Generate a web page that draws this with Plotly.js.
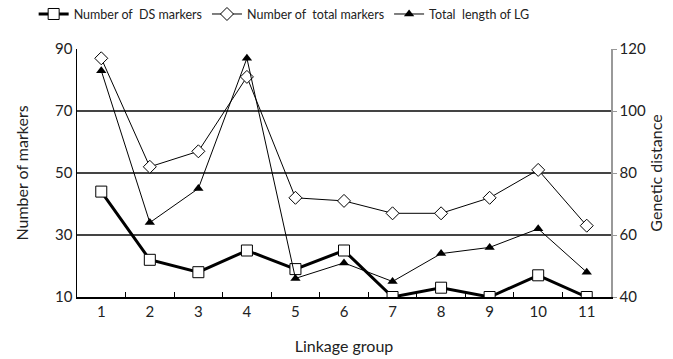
<!DOCTYPE html>
<html><head><meta charset="utf-8">
<script src="https://cdn.plot.ly/plotly-3.0.1.min.js"></script>
<style>html,body{margin:0;padding:0;background:#fff}#c{width:673px;height:359px}</style>
</head><body><div id="c"></div>
<script>
const groups = ['1','2','3','4','5','6','7','8','9','10','11'];
const dsMarkers = [44,22,18,25,19,25,10,13,10,17,10];
const totalMarkers = [87,52,57,81,42,41,37,37,42,51,33];
const lgLength = [113,64,75,117,46,51,45,54,56,62,48];
const seriesNames = ['Number of  DS markers','Number of  total markers','Total  length of LG'];

const font = 'Lato, "Open Sans", sans-serif';
const data = [
  {x: groups, y: dsMarkers, name: seriesNames[0], type:'scatter', mode:'lines+markers',
   line:{color:'#000', width:3}, marker:{symbol:'square', size:11, color:'#fff', line:{color:'#000', width:1}}},
  {x: groups, y: totalMarkers, name: seriesNames[1], type:'scatter', mode:'lines+markers',
   line:{color:'#000', width:1}, marker:{symbol:'diamond', size:10, color:'#fff', line:{color:'#000', width:1}}},
  {x: groups, y: lgLength, name: seriesNames[2], type:'scatter', mode:'lines+markers', yaxis:'y2',
   line:{color:'#000', width:1}, marker:{symbol:'triangle-up', size:9, color:'#000'}}
];
const layout = {
  width:673, height:359,
  margin:{l:77, r:62, t:49, b:62, autoexpand:false},
  paper_bgcolor:'#fff', plot_bgcolor:'#fff',
  font:{family:font, size:15, color:'#222'},
  showlegend:true,
  legend:{orientation:'h', xref:'container', yref:'container', x:0.05, xanchor:'left', y:0.96, yanchor:'middle',
    font:{size:12.5, color:'#222'}, itemwidth:30},
  xaxis:{type:'category', range:[-0.5,10.5], showgrid:false, showline:true, linecolor:'#000', linewidth:1.5,
    ticks:'inside', tickson:'boundaries', ticklen:5, tickcolor:'#000', tickfont:{size:15, color:'#222'},
    title:{text:'Linkage group', font:{size:16, color:'#222'}, standoff:22}, zeroline:false},
  yaxis:{range:[10,90], tickvals:[10,30,50,70,90], showgrid:true, gridcolor:'#444', gridwidth:1.5,
    showline:true, linecolor:'#000', linewidth:1.5, ticks:'', tickfont:{size:15, color:'#222'},
    title:{text:'Number of markers', font:{size:16, color:'#222'}, standoff:22}, zeroline:false},
  yaxis2:{range:[40,120], tickvals:[40,60,80,100,120], overlaying:'y', side:'right', showgrid:false,
    showline:true, linecolor:'#999', linewidth:1.5, ticks:'outside', ticklen:4, tickcolor:'#999',
    tickfont:{size:15, color:'#222'},
    title:{text:'Genetic distance', font:{size:16, color:'#222'}, standoff:3}, zeroline:false}
};
Plotly.newPlot('c', data, layout, {staticPlot:true});
</script></body></html>
